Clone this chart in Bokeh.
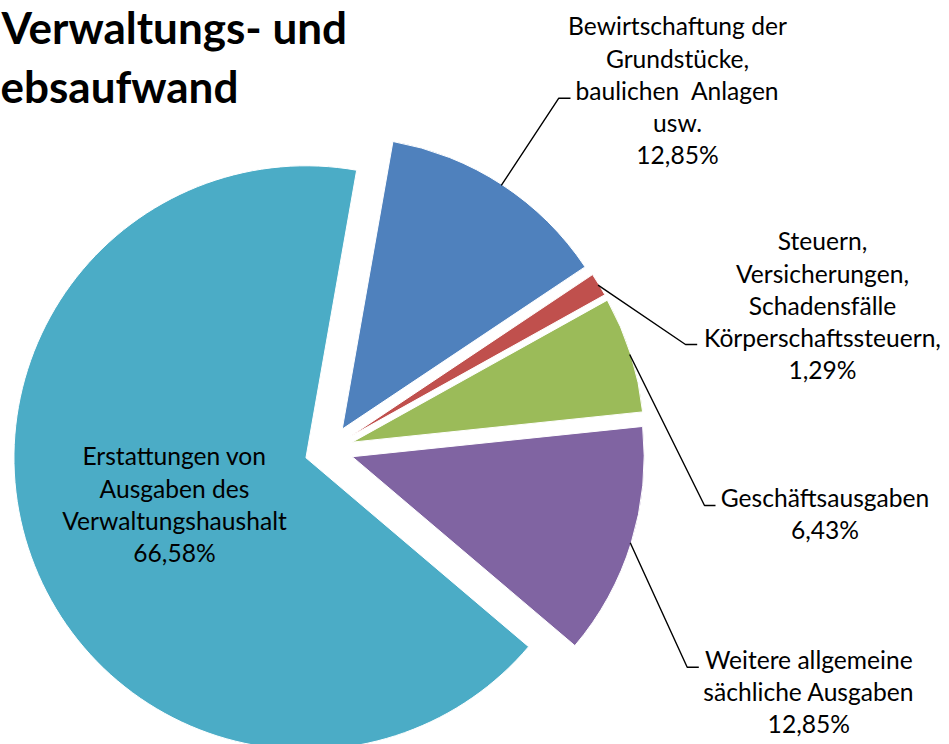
import numpy as np
from bokeh.plotting import figure
from bokeh.models import Range1d, ColumnDataSource
from bokeh.embed import file_html
from bokeh.resources import INLINE
from bokeh.core.properties import value

# ---------------- data ----------------
categories = [
    "Bewirtschaftung der\nGrundstücke,\nbaulichen\u00a0 Anlagen\nusw.",
    "Steuern,\nVersicherungen,\nSchadensfälle\nKörperschaftssteuern,",
    "Geschäftsausgaben",
    "Weitere allgemeine\nsächliche Ausgaben",
    "Erstattungen von\nAusgaben des\nVerwaltungshaushalt",
]
shares = [12.85, 1.29, 6.43, 12.85, 66.58]
pct_labels = ["12,85%", "1,29%", "6,43%", "12,85%", "66,58%"]
title_lines = ["Verwaltungs- und", "ebsaufwand"]

# ---------------- styles / layout ----------------
colors = ["#4F81BD", "#C0504D", "#9BBB59", "#8064A2", "#4BACC6"]
W, H = 949, 744
CX, CY = 328.4, -449.0      # pie centre (page px, y negated)
R = 292.0
EXPLODE = 24.4
FIRST_ANGLE = 10.0          # degrees clockwise from 12 o'clock
FONT = "Lato"
FS = "24.6px"
LINE_H = 32.2
TXT_SHIFT = 8.0             # compensation for renderer baseline
TITLE_SHIFT = 17.0

# label anchor: (centre x, first baseline y)
label_pos = [(677, 33.3), (822, 248.3), (824.5, 505.0), (808.3, 666.7), (174.0, 463.3)]
# leader: corner point and end point (None = no leader)
leader_pts = [((558.3, 97.7), (570.0, 97.7)),
              ((685.0, 344.0), (696.7, 344.0)),
              ((704.0, 505.0), (715.0, 505.0)),
              ((686.7, 666.7), (698.3, 666.7)),
              None]
title_pos = [(1, 43.3), (0, 102.5)]

p = figure(width=W, height=H, output_backend="svg", toolbar_location=None,
           x_range=Range1d(0, W), y_range=Range1d(-H, 0),
           x_axis_location=None, y_axis_location=None, min_border=0)
p.grid.visible = False
p.outline_line_color = None
p.background_fill_color = "white"
p.border_fill_color = "white"

total = float(sum(shares))
vals = np.array(shares, dtype=float)
theta1 = FIRST_ANGLE + 360.0 * (np.cumsum(vals) - vals) / total
theta2 = theta1 + 360.0 * vals / total
mid = np.radians((theta1 + theta2) / 2.0)
wx = CX + EXPLODE * np.sin(mid)
wy = CY + EXPLODE * np.cos(mid)

src = ColumnDataSource(dict(
    x=wx, y=wy,
    start=np.radians(90.0 - theta1),
    end=np.radians(90.0 - theta2),
    color=colors,
))
p.wedge(x="x", y="y", radius=R, start_angle="start", end_angle="end",
        direction="clock", fill_color="color", line_color="white",
        line_width=1, source=src)

# leader lines
for i, lp in enumerate(leader_pts):
    if lp is None:
        continue
    sx = wx[i] + (R - 1) * np.sin(mid[i])
    sy = wy[i] + (R - 1) * np.cos(mid[i])
    (cx_, cy_), (ex_, ey_) = lp
    p.line([sx, cx_, ex_], [sy, -cy_, -ey_], line_color="black", line_width=1.4)

# labels
tx, ty, tt = [], [], []
for i, cat in enumerate(categories):
    lines = cat.split("\n") + [pct_labels[i]]
    x0, y0 = label_pos[i]
    for k, ln in enumerate(lines):
        tx.append(x0)
        ty.append(-(y0 - TXT_SHIFT + k * LINE_H))
        tt.append(ln)
p.text(x=tx, y=ty, text=tt, text_align="center", text_baseline="alphabetic",
       text_font=value(FONT), text_font_size=FS, text_color="black")

# title (partially visible)
p.text(x=[t[0] for t in title_pos], y=[-(t[1] - TITLE_SHIFT) for t in title_pos],
       text=title_lines, text_align="left", text_baseline="alphabetic",
       text_font=value(FONT), text_font_size="44px", text_font_style="bold",
       text_color="black")

open("out.html", "w").write(file_html(p, INLINE))
